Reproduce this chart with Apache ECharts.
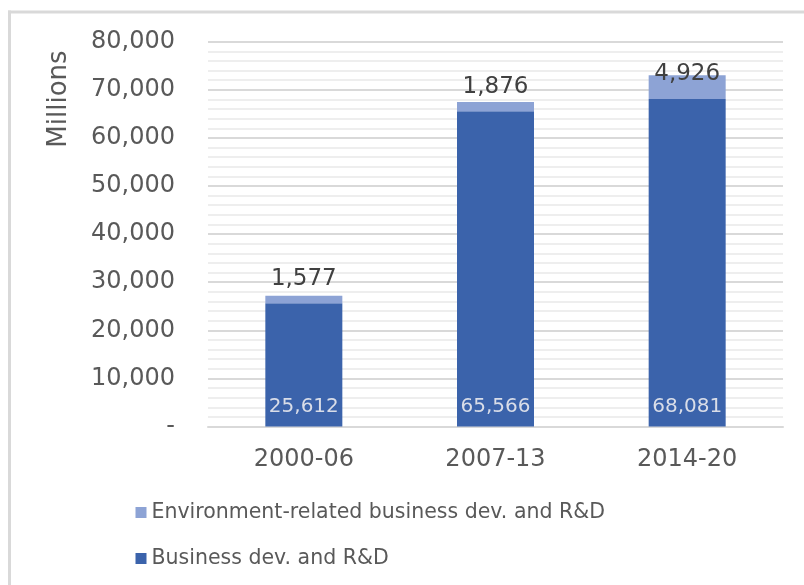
<!DOCTYPE html>
<html>
<head>
<meta charset="utf-8">
<script src="https://cdn.jsdelivr.net/npm/echarts@6/dist/echarts.min.js"></script>
<style>
  html, body { margin: 0; padding: 0; background: #fff; overflow: hidden; }
  #chart { width: 804px; height: 585px; }
</style>
</head>
<body>
<div id="chart"></div>
<script>
// Funding periods and amounts (millions)
const periods = ['2000-06', '2007-13', '2014-20'];
const businessRD = [25612, 65566, 68081];
const envBusinessRD = [1577, 1876, 4926];
const seriesNames = ['Business dev. and R&D', 'Environment-related business dev. and R&D'];
const axisTitle = 'Millions';

const FONT = '"DejaVu Sans", Verdana, sans-serif';
const fmt = v => v === 0 ? '-' : v.toLocaleString('en-US');

const chart = echarts.init(document.getElementById('chart'), null, { renderer: 'canvas' });

chart.setOption({
  backgroundColor: '#ffffff',
  animation: false,
  graphic: [{
    // frame edges: top and left only
    type: 'line',
    shape: { x1: 8, y1: 12, x2: 804, y2: 12 },
    style: { stroke: '#d9d9d9', lineWidth: 3 },
    silent: true
  }, {
    type: 'line',
    shape: { x1: 9.5, y1: 10.5, x2: 9.5, y2: 585 },
    style: { stroke: '#d9d9d9', lineWidth: 3 },
    silent: true
  }, {
    type: 'text',
    x: 59, y: 99,
    rotation: Math.PI / 2,
    style: {
      text: axisTitle, fill: '#595959', font: '26px ' + FONT,
      textAlign: 'center', textVerticalAlign: 'middle'
    },
    silent: true
  }],
  grid: { left: 208, right: 21, top: 41.7, bottom: 158.5, containLabel: false },
  legend: {
    orient: 'vertical',
    left: 130.5,
    top: 497,
    itemWidth: 11,
    itemHeight: 11,
    itemGap: 25,
    icon: 'rect',
    data: [seriesNames[1], seriesNames[0]],
    textStyle: { fontFamily: FONT, fontSize: 20.5, color: '#595959' }
  },
  xAxis: {
    type: 'category',
    data: periods,
    axisLine: { show: true, lineStyle: { color: '#d9d9d9', width: 2 } },
    axisTick: { show: false },
    axisLabel: { fontFamily: FONT, fontSize: 24, color: '#595959', margin: 21 }
  },
  yAxis: {
    type: 'value',
    min: 0,
    max: 80000,
    interval: 10000,
    axisLine: { show: false },
    axisTick: { show: false },
    axisLabel: { fontFamily: FONT, fontSize: 24, color: '#595959', margin: 33, formatter: fmt },
    splitLine: { show: true, lineStyle: { color: '#d9d9d9', width: 2 } },
    minorTick: { show: false, splitNumber: 5 },
    minorSplitLine: { show: true, lineStyle: { color: '#eeeeee', width: 2 } }
  },
  series: [{
    name: seriesNames[0],
    type: 'bar',
    stack: 'total',
    barWidth: 77,
    data: businessRD,
    itemStyle: { color: '#3b63ab' },
    label: {
      show: true,
      position: 'insideBottom',
      distance: 10,
      fontFamily: FONT,
      fontSize: 20,
      color: '#d9dde8',
      formatter: p => fmt(p.value)
    }
  }, {
    name: seriesNames[1],
    type: 'bar',
    stack: 'total',
    barWidth: 77,
    data: envBusinessRD,
    itemStyle: { color: '#8da3d5' },
    label: {
      show: true,
      position: 'insideBottom',
      distance: 13,
      fontFamily: FONT,
      fontSize: 23,
      color: '#404040',
      formatter: p => fmt(p.value)
    }
  }]
});
</script>
</body>
</html>
